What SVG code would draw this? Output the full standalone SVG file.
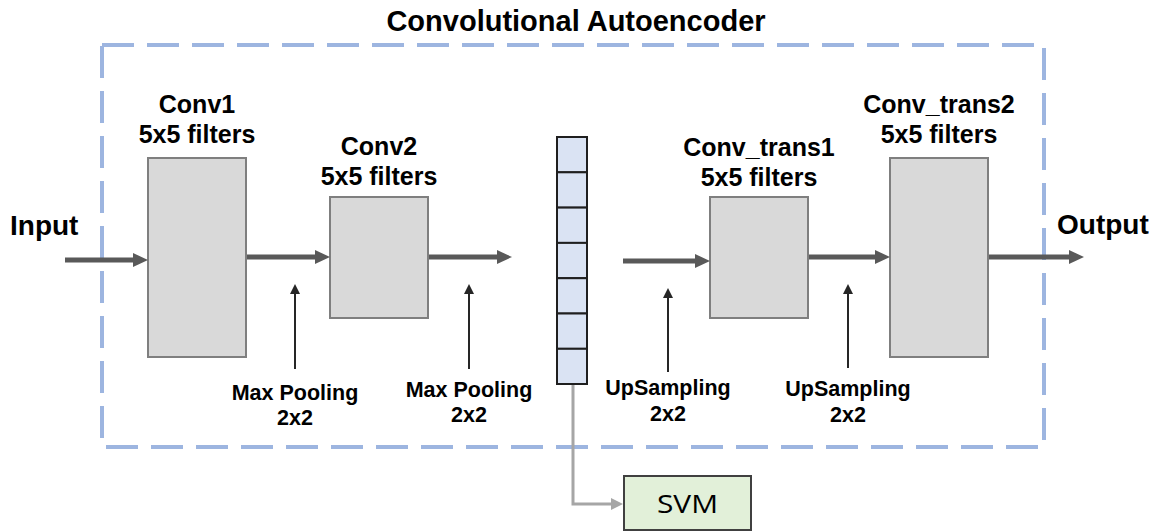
<svg xmlns="http://www.w3.org/2000/svg" width="1161" height="531" viewBox="0 0 1161 531">
<style>
text{font-family:"Liberation Sans",Arial,sans-serif;font-weight:bold;fill:#000}
.ttl{font-size:29px}
.io{font-size:28px}
.lbl{font-size:25px;text-anchor:middle}
.op{font-size:21.5px;text-anchor:middle}
.blk{fill:#D9D9D9;stroke:#7F7F7F;stroke-width:2}
.thick{stroke:#595959;stroke-width:5;fill:none}
.thin{stroke:#262626;stroke-width:2;fill:none}
.cell{fill:#DAE3F3;stroke:#1F1F1F;stroke-width:2}
.svm{fill:#E2F0D9;stroke:#404040;stroke-width:2}
.svmt{font-family:"Open Sans","Noto Sans",sans-serif;font-weight:normal;font-size:26px;text-anchor:middle}
</style>
<defs>
<marker id="big" markerUnits="userSpaceOnUse" markerWidth="15" markerHeight="14" viewBox="0 0 15 14" refX="0" refY="7" orient="auto"><path d="M0,0 L15,7 L0,14 z" fill="#595959"/></marker>
<marker id="sm" markerUnits="userSpaceOnUse" markerWidth="10" markerHeight="10" viewBox="0 0 10 10" refX="0" refY="5" orient="auto"><path d="M0,0 L10,5 L0,10 z" fill="#262626"/></marker>
<marker id="gr" markerUnits="userSpaceOnUse" markerWidth="12" markerHeight="12" viewBox="0 0 12 12" refX="0" refY="6" orient="auto"><path d="M0,0 L12,6 L0,12 z" fill="#A6A6A6"/></marker>
</defs>
<text class="ttl" x="576" y="31" text-anchor="middle">Convolutional Autoencoder</text>
<rect x="102" y="45" width="942" height="402" fill="none" stroke="#9DB5E0" stroke-width="4" stroke-dasharray="32 13"/>
<g id="input"><text class="io" x="10" y="235">Input</text></g>
<g id="output"><text class="io" x="1057" y="234">Output</text></g>
<g id="conv1">
<rect class="blk" x="148" y="158" width="98" height="199"/>
<text class="lbl" x="197" y="113">Conv1</text>
<text class="lbl" x="197" y="143">5x5 filters</text>
</g>
<g id="conv2">
<rect class="blk" x="330" y="197" width="98" height="121"/>
<text class="lbl" x="379" y="155">Conv2</text>
<text class="lbl" x="379" y="185">5x5 filters</text>
</g>
<g id="latent">
<rect class="cell" x="557" y="137" width="30" height="35.3"/>
<rect class="cell" x="557" y="172.3" width="30" height="35.3"/>
<rect class="cell" x="557" y="207.6" width="30" height="35.3"/>
<rect class="cell" x="557" y="242.9" width="30" height="35.3"/>
<rect class="cell" x="557" y="278.2" width="30" height="35.3"/>
<rect class="cell" x="557" y="313.5" width="30" height="35.3"/>
<rect class="cell" x="557" y="348.8" width="30" height="35.2"/>
</g>
<g id="conv_trans1">
<rect class="blk" x="710" y="197" width="98" height="121"/>
<text class="lbl" x="759" y="156">Conv_trans1</text>
<text class="lbl" x="759" y="186">5x5 filters</text>
</g>
<g id="conv_trans2">
<rect class="blk" x="890" y="158" width="98" height="199"/>
<text class="lbl" x="939" y="113">Conv_trans2</text>
<text class="lbl" x="939" y="143">5x5 filters</text>
</g>
<g id="svm">
<rect class="svm" x="624" y="476" width="127" height="54"/>
<text class="svmt" x="687.5" y="513" textLength="61" lengthAdjust="spacingAndGlyphs">SVM</text>
</g>
<g id="ops">
<text class="op" x="295" y="400">Max Pooling</text>
<text class="op" x="295" y="425">2x2</text>
<text class="op" x="469" y="397">Max Pooling</text>
<text class="op" x="469" y="422">2x2</text>
<text class="op" x="668" y="395">UpSampling</text>
<text class="op" x="668" y="421">2x2</text>
<text class="op" x="848" y="396">UpSampling</text>
<text class="op" x="848" y="422">2x2</text>
</g>
<g id="connectors">
<line class="thick" x1="65" y1="260" x2="133" y2="260" marker-end="url(#big)"/>
<line class="thick" x1="247" y1="257" x2="315" y2="257" marker-end="url(#big)"/>
<line class="thick" x1="429" y1="257" x2="497" y2="257" marker-end="url(#big)"/>
<line class="thick" x1="623" y1="261" x2="695" y2="261" marker-end="url(#big)"/>
<line class="thick" x1="809" y1="257" x2="875" y2="257" marker-end="url(#big)"/>
<line class="thick" x1="989" y1="257" x2="1069" y2="257" marker-end="url(#big)"/>
<line class="thin" x1="295" y1="369" x2="295" y2="294" marker-end="url(#sm)"/>
<line class="thin" x1="469" y1="369" x2="469" y2="294" marker-end="url(#sm)"/>
<line class="thin" x1="668" y1="372" x2="668" y2="298" marker-end="url(#sm)"/>
<line class="thin" x1="848" y1="368" x2="848" y2="294" marker-end="url(#sm)"/>
<polyline points="573,385 573,504 611,504" fill="none" stroke="#A6A6A6" stroke-width="3" marker-end="url(#gr)"/>
</g>
</svg>
